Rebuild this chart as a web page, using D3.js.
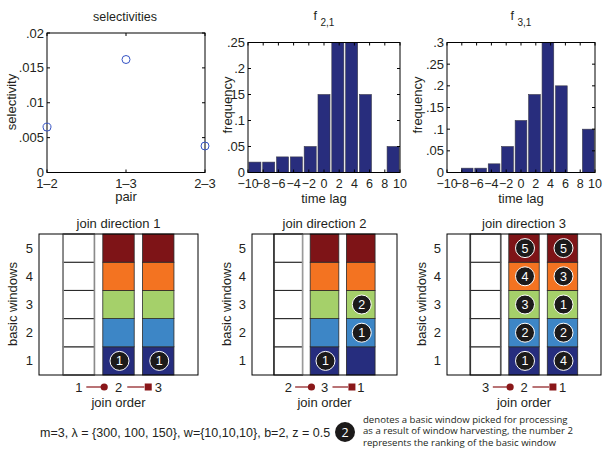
<!DOCTYPE html>
<html>
<head>
<meta charset="utf-8">
<script src="https://cdn.jsdelivr.net/npm/d3@7"></script>
<style>
  body { margin: 0; background: #fff; }
  text { font-family: "Liberation Sans", Arial, sans-serif; fill: #231f20; }
  .note text { font-family: "Open Sans", sans-serif; }
</style>
</head>
<body>
<svg id="chart" width="603" height="450"></svg>
<script>
// ---- data ----
const pairs = ["1\u20132", "1\u20133", "2\u20133"];
const selectivity = [0.0065, 0.0162, 0.0038];
const selTicks = [0, 0.005, 0.01, 0.015, 0.02];

const lagTicks = [-10, -8, -6, -4, -2, 0, 2, 4, 6, 8, 10];
const lagBins = d3.range(11);              // hist with 11 bins over [-10, 10]
const f21 = [0.02, 0.02, 0.03, 0.03, 0.05, 0.15, 0.25, 0.25, 0.15, 0, 0.05];
const f31 = [0, 0.01, 0.01, 0.02, 0.06, 0.12, 0.18, 0.30, 0.20, 0, 0.10];
const f21Ticks = [0, 0.05, 0.1, 0.15, 0.2, 0.25];
const f31Ticks = [0, 0.05, 0.1, 0.15, 0.2, 0.25, 0.3];

const windows = [1, 2, 3, 4, 5];
const windowColors = ["#262d7e", "#3d86c6", "#a5d06a", "#f37321", "#7e1417"];
const directionTitles = ["join direction 1", "join direction 2", "join direction 3"];
const joinOrders = [["1", "2", "3"], ["2", "3", "1"], ["3", "2", "1"]];
// ranking of picked windows (row 1..5) in the 2nd and 3rd stream of each order
const ranksFirst = [
  [1, null, null, null, null],
  [1, null, null, null, null],
  [1, 2, 3, 4, 5]
];
const ranksSecond = [
  [1, null, null, null, null],
  [null, 1, 2, null, null],
  [4, 2, 1, 3, 5]
];
const noteLines = [
  "denotes a basic window picked for processing",
  "as a result of window harvesting, the number 2",
  "represents the ranking of the basic window"
];

const svg = d3.select("#chart");
const fmt = v => v === 0 ? "0" : String(v).replace(/^0/, "");
const lagFmt = v => v < 0 ? "\u2212" + Math.abs(v) : String(v);

// box with inward ticks on all sides, matlab style
function box(g, x, y, xt, yt) {
  const [x0, x1] = x.range(), [y0, y1] = y.range();
  g.append("rect").attr("x", x0).attr("y", y1).attr("width", x1 - x0).attr("height", y0 - y1)
    .attr("fill", "none").attr("stroke", "#000").attr("stroke-width", 1);
  xt.forEach(t => {
    g.append("line").attr("x1", x(t)).attr("x2", x(t)).attr("y1", y0).attr("y2", y0 - 3).attr("stroke", "#000");
    g.append("line").attr("x1", x(t)).attr("x2", x(t)).attr("y1", y1).attr("y2", y1 + 3).attr("stroke", "#000");
  });
  yt.forEach(t => {
    g.append("line").attr("x1", x0).attr("x2", x0 + 3).attr("y1", y(t)).attr("y2", y(t)).attr("stroke", "#000");
    g.append("line").attr("x1", x1).attr("x2", x1 - 3).attr("y1", y(t)).attr("y2", y(t)).attr("stroke", "#000");
  });
}

function yLabels(g, y, ticks, xpos, f) {
  g.selectAll(null).data(ticks).enter().append("text")
    .attr("x", xpos).attr("y", d => y(d) + 4.5)
    .attr("text-anchor", "end").attr("font-size", 13).text(f);
}

function rotLabel(g, x, y, txt) {
  g.append("text").attr("transform", `translate(${x},${y}) rotate(-90)`)
    .attr("text-anchor", "middle").attr("font-size", 13).text(txt);
}

// ---- selectivities ----
{
  const g = svg.append("g");
  const x = d3.scaleLinear().domain([1, 3]).range([47, 205]);
  const y = d3.scaleLinear().domain([0, 0.02]).range([172.5, 33]);
  box(g, x, y, [1, 2, 3], selTicks);
  yLabels(g, y, selTicks, 44, fmt);
  g.selectAll(null).data(pairs).enter().append("text")
    .attr("x", (d, i) => x(i + 1)).attr("y", 188)
    .attr("text-anchor", "middle").attr("font-size", 13).text(d => d);
  g.selectAll("circle").data(selectivity).enter().append("circle")
    .attr("cx", (d, i) => x(i + 1)).attr("cy", d => y(d)).attr("r", 4)
    .attr("fill", "none").attr("stroke", "#3553c4").attr("stroke-width", 1);
  g.append("text").attr("x", 125).attr("y", 21).attr("text-anchor", "middle").attr("font-size", 12.5).text("selectivities");
  g.append("text").attr("x", 126).attr("y", 201).attr("text-anchor", "middle").attr("font-size", 13).text("pair");
  rotLabel(g, 16, 102, "selectivity");
}

// ---- lag histograms ----
function histPanel(vals, ticks, left, right, sub, labX) {
  const g = svg.append("g");
  const x = d3.scaleLinear().domain([-10, 10]).range([left, right]);
  const y = d3.scaleLinear().domain([0, d3.max(ticks)]).range([172.5, 42.5]);
  const xb = d3.scaleBand().domain(lagBins).range([left, right]).paddingInner(0.13).paddingOuter(0.065);
  g.selectAll("rect.bar").data(vals).enter().append("rect").attr("class", "bar")
    .attr("x", (d, i) => xb(i)).attr("width", xb.bandwidth())
    .attr("y", d => y(d)).attr("height", d => y(0) - y(d))
    .attr("fill", "#282d7d").attr("stroke", "#3a3a4a").attr("stroke-width", 0.6);
  box(g, x, y, lagTicks, ticks);
  yLabels(g, y, ticks, left - 3, fmt);
  g.selectAll(null).data(lagTicks).enter().append("text")
    .attr("x", d => x(d)).attr("y", 188)
    .attr("text-anchor", "middle").attr("font-size", 12.5).text(lagFmt);
  g.append("text").attr("x", (left + right) / 2).attr("y", 203).attr("text-anchor", "middle")
    .attr("font-size", 13).text("time lag");
  rotLabel(g, labX, 105, "frequency");
  const t = g.append("text").attr("x", (left + right) / 2).attr("y", 20).attr("text-anchor", "middle").attr("font-size", 12.5);
  t.append("tspan").text("f ");
  t.append("tspan").attr("dy", 6).attr("font-size", 10).text(sub);
}
histPanel(f21, f21Ticks, 248, 400, "2,1", 232);
histPanel(f31, f31Ticks, 447, 595, "3,1", 422);

// ---- join directions ----
const joinFrames = [[39, 198], [252, 397], [447, 601]];
const joinLabelX = [17, 231, 426];
const sideLine = [["#8a8a8a", "#8a8a8a"], ["#333", "#9a9a9a"], ["#333", "#555"]];

directionTitles.forEach((title, k) => {
  const g = svg.append("g");
  const [l, r] = joinFrames[k];
  const x = d3.scaleLinear().domain([0, 4]).range([l, r]);
  const y = d3.scaleBand().domain(windows).range([375, 234]);
  const cw = x(0.79) - x(0);

  // empty first stream column
  windows.forEach(w => {
    g.append("rect").attr("x", x(1) - cw / 2).attr("y", y(w)).attr("width", cw).attr("height", y.bandwidth())
      .attr("fill", "#fff").attr("stroke", "#222").attr("stroke-width", 1);
  });
  g.append("line").attr("x1", x(1) - cw / 2).attr("x2", x(1) - cw / 2).attr("y1", 234).attr("y2", 375)
    .attr("stroke", sideLine[k][0]).attr("stroke-width", 1.6);
  g.append("line").attr("x1", x(1) + cw / 2).attr("x2", x(1) + cw / 2).attr("y1", 234).attr("y2", 375)
    .attr("stroke", sideLine[k][1]).attr("stroke-width", 1.6);

  [ranksFirst[k], ranksSecond[k]].forEach((ranks, c) => {
    const cx = x(c + 2);
    g.selectAll(null).data(windows).enter().append("rect")
      .attr("x", cx - cw / 2).attr("y", d => y(d)).attr("width", cw).attr("height", y.bandwidth())
      .attr("fill", (d, i) => windowColors[i]).attr("stroke", "#2a2a2a").attr("stroke-width", 0.8);
    windows.forEach((w, i) => {
      if (ranks[i] == null) return;
      const cy = y(w) + y.bandwidth() / 2;
      g.append("circle").attr("cx", cx + 1).attr("cy", cy).attr("r", 9.5)
        .attr("fill", "#1c1a1a").attr("stroke", "#fff").attr("stroke-width", 1);
      g.append("text").attr("x", cx + 1).attr("y", cy + 4.5).attr("text-anchor", "middle")
        .attr("font-size", 12.5).style("fill", "#fff").text(ranks[i]);
    });
  });

  g.append("rect").attr("x", l).attr("y", 234).attr("width", r - l).attr("height", 141)
    .attr("fill", "none").attr("stroke", "#000");

  g.selectAll(null).data(windows).enter().append("text")
    .attr("x", l - 6).attr("y", d => y(d) + y.bandwidth() / 2 + 4.5)
    .attr("text-anchor", "end").attr("font-size", 13).text(d => d);
  g.append("text").attr("x", (l + r) / 2).attr("y", 228).attr("text-anchor", "middle").attr("font-size", 13).text(title);
  rotLabel(g, joinLabelX[k], 304, "basic windows");

  // join order axis: stream labels joined by circle / square operators
  g.selectAll(null).data(joinOrders[k]).enter().append("text")
    .attr("x", (d, i) => x(i + 1)).attr("y", 391.5).attr("text-anchor", "middle")
    .attr("font-size", 13).text(d => d);
  const red = "#8a1719";
  g.append("line").attr("x1", x(1.19)).attr("x2", x(1.6)).attr("y1", 387).attr("y2", 387).attr("stroke", red).attr("stroke-width", 1.2);
  g.append("circle").attr("cx", x(1.64)).attr("cy", 387).attr("r", 3.6).attr("fill", red);
  g.append("line").attr("x1", x(2.22)).attr("x2", x(2.65)).attr("y1", 387).attr("y2", 387).attr("stroke", red).attr("stroke-width", 1.2);
  g.append("rect").attr("x", x(2.66)).attr("y", 383.5).attr("width", 7).attr("height", 7).attr("fill", red);
  g.append("text").attr("x", (l + r) / 2).attr("y", 407).attr("text-anchor", "middle").attr("font-size", 13).text("join order");
});

// ---- parameter note and legend ----
svg.append("text").attr("x", 40).attr("y", 436.5).attr("font-size", 12.5)
  .text("m=3, \u03bb = {300, 100, 150}, w={10,10,10}, b=2,  z = 0.5");
const note = svg.append("g").attr("class", "note");
note.append("circle").attr("cx", 345).attr("cy", 432).attr("r", 10).attr("fill", "#1c1a1a");
note.append("text").attr("x", 345).attr("y", 436.5).attr("text-anchor", "middle").attr("font-size", 12.5)
  .style("fill", "#fff").text("2");
note.selectAll(null).data(noteLines).enter().append("text")
  .attr("x", 363).attr("y", (d, i) => 423 + i * 11.3).attr("font-size", 9.6).text(d => d);
</script>
</body>
</html>
